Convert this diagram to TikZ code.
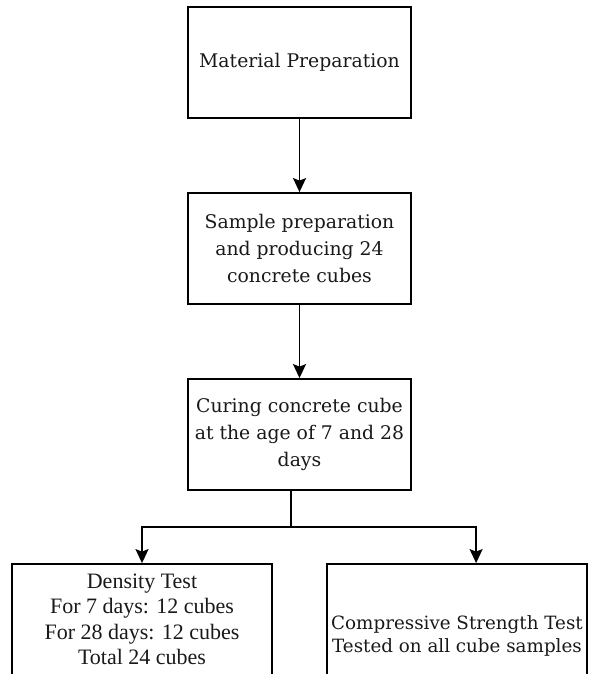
\documentclass[tikz,border=0pt]{standalone}
\usepackage{fontspec}
\setmainfont{Liberation Serif}
\newfontfamily\slabfont{DejaVu Serif}
\usetikzlibrary{arrows.meta}
\begin{document}
\begin{tikzpicture}[x=1pt,y=-1pt,
  box/.style={draw=black, line width=1.8pt, minimum width=223pt, minimum height=111pt, inner sep=0pt, text=black!90, align=center, font=\slabfont\fontsize{18.8}{27}\selectfont},
  wbox/.style={box, minimum width=260pt},
  conn/.style={line width=1.8pt, -{Stealth[length=14pt,width=13pt,inset=2.5pt]}},
  plain/.style={line width=1.8pt},
]
\useasboundingbox (0,0) rectangle (595,674);
\clip (0,0) rectangle (595,674);
\node[box] (mat) at (299.5,62.5) {Material Preparation};
\node[box] (samp) at (299.5,248.5) {Sample preparation\\and producing 24\\concrete cubes};
\node[box] (cur) at (299.5,434.5) {Curing concrete cube\\at the age of 7 and 28\\days};
\node[wbox, font=\rmfamily\fontsize{22}{25.5}\selectfont] (dens) at (142,619.5) {Density Test\\For 7 days: 12 cubes\\For 28 days: 12 cubes\\Total 24 cubes};
\node[wbox] (comp) at (457,619.5) {};
\node[font=\slabfont\fontsize{18.3}{23}\selectfont, text=black!90, align=center, inner sep=0pt] (compt) at (457,636) {Compressive Strength Test\\Tested on all cube samples};
\draw[conn] (mat) -- (samp);
\draw[conn] (samp) -- (cur);
\coordinate (split) at (291,527);
\draw[plain] (cur.south -| split) -- (split);
\draw[conn] (split) -| (dens.north);
\draw[conn] (split) -| ([xshift=150pt]comp.north west);
\end{tikzpicture}
\end{document}
